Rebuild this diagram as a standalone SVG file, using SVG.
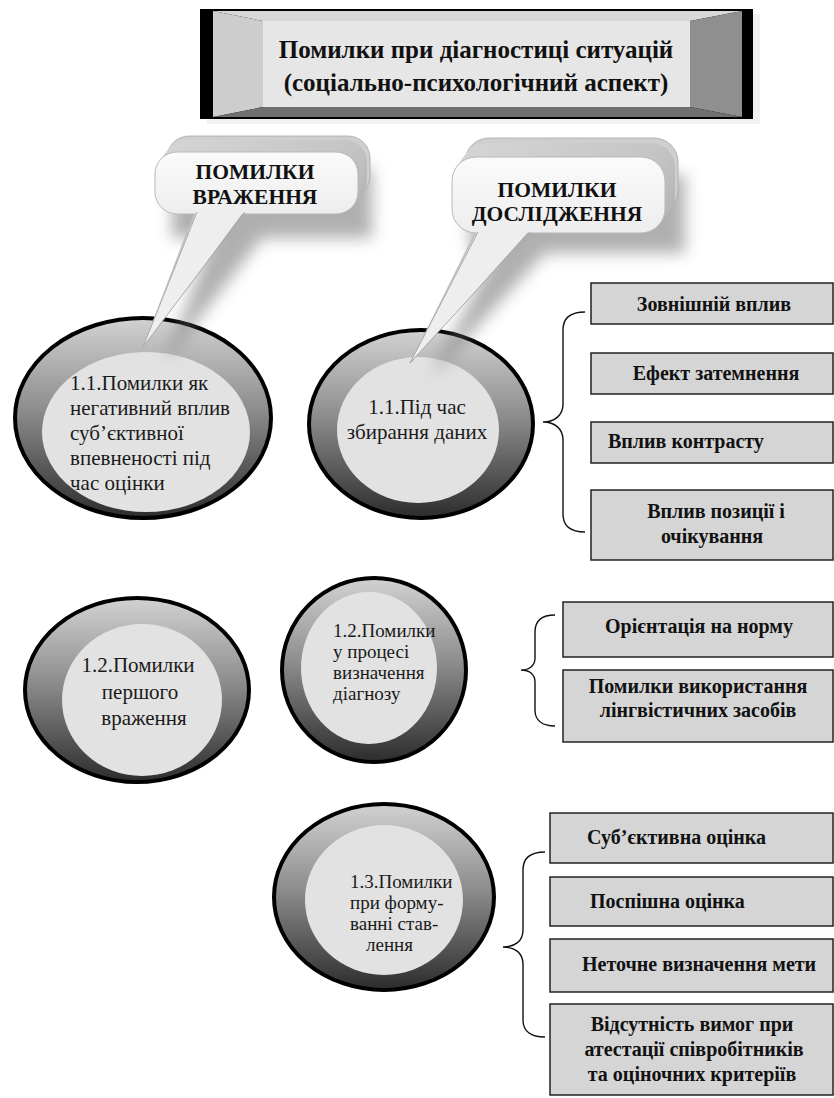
<svg xmlns="http://www.w3.org/2000/svg" width="834" height="1098" viewBox="0 0 834 1098">
<defs>
  <linearGradient id="ringGrad" x1="0" y1="0" x2="0" y2="1">
    <stop offset="0" stop-color="#d2d2d2"/>
    <stop offset="0.45" stop-color="#8e8e8e"/>
    <stop offset="1" stop-color="#2c2c2c"/>
  </linearGradient>
  <linearGradient id="faceGrad" x1="0" y1="0" x2="0" y2="1">
    <stop offset="0" stop-color="#fbfbfb"/>
    <stop offset="1" stop-color="#ededed"/>
  </linearGradient>
  <linearGradient id="extGrad" x1="0" y1="0" x2="1" y2="1">
    <stop offset="0" stop-color="#d6d6d6"/>
    <stop offset="1" stop-color="#b2b2b2"/>
  </linearGradient>
  <filter id="soft" x="-40%" y="-40%" width="180%" height="180%">
    <feGaussianBlur stdDeviation="8"/>
  </filter>
</defs>
<style>
  .ring{fill:url(#ringGrad);stroke:#000;stroke-width:4}
  .inner{fill:#e2e2e2}
  .ct{font-family:"Liberation Serif","Times New Roman",serif;font-size:21px;fill:#1a1a1a}
  .cs{font-size:19px}
  .box{fill:#d5d5d5;stroke:#222;stroke-width:1.5}
  .bt{font-family:"Liberation Serif","Times New Roman",serif;font-weight:bold;font-size:20px;fill:#111}
  .mid{text-anchor:middle}
  .brace{fill:none;stroke:#111;stroke-width:1.4}
  .title{font-family:"Liberation Serif","Times New Roman",serif;font-weight:bold;font-size:25px;fill:#111;text-anchor:middle}
  .cot{font-family:"Liberation Serif","Times New Roman",serif;font-weight:bold;font-size:21.5px;fill:#111;text-anchor:middle}
  .ext{fill:url(#extGrad)}
  .back{fill:#cfcfcf;stroke:#a8a8a8;stroke-width:0.8}
  .front{fill:url(#faceGrad);stroke:#b8b8b8;stroke-width:1}
  .shadow{fill:#6e6e6e;opacity:0.55;filter:url(#soft)}
</style>

<!-- Title -->
<g id="title">
  <rect x="207" y="14" width="553" height="110" fill="#e8e8e8" opacity="0.6"/>
  <rect x="200" y="9" width="553" height="110" fill="#000"/>
  <polygon points="213,11 742,11 690,21 263,21" fill="#d8d8d8"/>
  <polygon points="213,11 263,21 263,107 213,117" fill="#cdcdcd"/>
  <polygon points="742,11 690,21 690,107 742,117" fill="#8f8f8f"/>
  <polygon points="263,107 690,107 742,117 213,117" fill="#707070"/>
  <rect x="263" y="21" width="427" height="86" fill="#e6e6e6"/>
  <text class="title" x="476" y="58">Помилки при діагностиці ситуацій</text>
  <text class="title" x="476" y="91">(соціально-психологічний аспект)</text>
</g>

<!-- Circles -->
<g id="circle-1-1-vrazhennia">
  <ellipse class="ring" cx="143" cy="418" rx="128" ry="100"/>
  <ellipse class="inner" cx="146" cy="432" rx="104" ry="80"/>
  <text class="ct" x="70" y="390">1.1.Помилки як</text>
  <text class="ct" x="70" y="415">негативний вплив</text>
  <text class="ct" x="70" y="440">суб’єктивної</text>
  <text class="ct" x="70" y="465">впевненості під</text>
  <text class="ct" x="70" y="490">час оцінки</text>
</g>

<g id="circle-1-1-doslidzhennia">
  <ellipse class="ring" cx="421" cy="424" rx="112" ry="94"/>
  <ellipse class="inner" cx="418" cy="430" rx="81" ry="73"/>
  <text class="ct mid" x="417" y="414">1.1.Під час</text>
  <text class="ct mid" x="417" y="439">збирання даних</text>
</g>

<g id="circle-1-2-vrazhennia">
  <ellipse class="ring" cx="137" cy="690" rx="112" ry="92"/>
  <ellipse class="inner" cx="142" cy="700" rx="80" ry="76"/>
  <text class="ct mid" x="138" y="672">1.2.Помилки</text>
  <text class="ct mid" x="140" y="699">першого</text>
  <text class="ct mid" x="144" y="725">враження</text>
</g>

<g id="circle-1-2-doslidzhennia">
  <ellipse class="ring" cx="374" cy="670" rx="92" ry="92"/>
  <ellipse class="inner" cx="369" cy="668" rx="68" ry="76"/>
  <text class="ct cs" x="333" y="637">1.2.Помилки</text>
  <text class="ct cs" x="333" y="658">у процесі</text>
  <text class="ct cs" x="333" y="679">визначення</text>
  <text class="ct cs" x="333" y="700">діагнозу</text>
</g>

<g id="circle-1-3">
  <ellipse class="ring" cx="384" cy="897" rx="110" ry="93"/>
  <ellipse class="inner" cx="384" cy="900" rx="79" ry="75"/>
  <text class="ct cs" x="350" y="888">1.3.Помилки</text>
  <text class="ct cs" x="350" y="909">при форму-</text>
  <text class="ct cs" x="350" y="930">ванні став-</text>
  <text class="ct cs" x="366" y="951">лення</text>
</g>

<!-- Callout 1 -->
<g id="callout-vrazhennia">
  <path class="shadow" d="M172,168 h200 v70 h-110 L165,362 L212,238 h-40 z"/>
  <rect class="back" x="167" y="136" width="203" height="62" rx="22"/>
  <rect class="ext" x="164" y="140" width="203" height="62" rx="22"/>
  <rect class="ext" x="161" y="144" width="203" height="62" rx="22"/>
  <rect class="ext" x="158" y="148" width="203" height="62" rx="22"/>
  <polygon points="195,210 201,210 146,345 143,347" fill="#bdbdbd"/>
  <rect class="front" x="155" y="152" width="203" height="62" rx="22"/>
  <polygon points="197,210 245,210 143,347" fill="#eeeeee"/>
  <polyline points="197,212 143,347 245,212" fill="none" stroke="#a8a8a8" stroke-width="1"/>
  <text class="cot" x="255" y="179">ПОМИЛКИ</text>
  <text class="cot" x="255" y="204">ВРАЖЕННЯ</text>
</g>

<!-- Callout 2 -->
<g id="callout-doslidzhennia">
  <path class="shadow" d="M470,175 h215 v78 h-140 L430,378 L495,253 h-25 z"/>
  <rect class="back" x="465" y="138" width="213" height="76" rx="24"/>
  <rect class="ext" x="462" y="143" width="213" height="76" rx="24"/>
  <rect class="ext" x="458" y="148" width="213" height="76" rx="24"/>
  <rect class="ext" x="455" y="153" width="213" height="76" rx="24"/>
  <polygon points="476,230 482,230 413,361 410,363" fill="#bdbdbd"/>
  <rect class="front" x="452" y="157" width="213" height="76" rx="24"/>
  <polygon points="478,230 530,230 410,363" fill="#eeeeee"/>
  <polyline points="478,232 410,363 530,232" fill="none" stroke="#a8a8a8" stroke-width="1"/>
  <text class="cot" x="557" y="197">ПОМИЛКИ</text>
  <text class="cot" x="557" y="221">ДОСЛІДЖЕННЯ</text>
</g>

<!-- Braces -->
<g id="connectors">
  <path class="brace" d="M585,312 C571,312 563,318 563,330 L563,404 C563,415 555,422 543,422 C555,422 563,429 563,440 L563,514 C563,526 571,532 585,532"/>
  <path class="brace" d="M555,615 C542,615 535,621 535,632 L535,658 C535,666 529,670 521,670 C529,670 535,674 535,682 L535,710 C535,720 542,726 555,726"/>
  <path class="brace" d="M545,852 C531,852 523,858 523,870 L523,930 C523,941 515,947 503,947 C515,947 523,953 523,964 L523,1020 C523,1031 531,1037 545,1037"/>
</g>

<!-- Boxes group 1 -->
<g id="box-zovnishnii">
  <rect class="box" x="591" y="283" width="242" height="41"/>
  <text class="bt mid" x="714" y="311">Зовнішній вплив</text>
</g>
<g id="box-efekt">
  <rect class="box" x="591" y="353" width="242" height="41"/>
  <text class="bt mid" x="716" y="380">Ефект затемнення</text>
</g>
<g id="box-kontrast">
  <rect class="box" x="591" y="422" width="242" height="41"/>
  <text class="bt" x="608" y="448">Вплив контрасту</text>
</g>
<g id="box-pozytsii">
  <rect class="box" x="591" y="490" width="242" height="70"/>
  <text class="bt mid" x="716" y="518">Вплив позиції і</text>
  <text class="bt mid" x="712" y="543">очікування</text>
</g>

<!-- Boxes group 2 -->
<g id="box-norma">
  <rect class="box" x="563" y="602" width="270" height="55"/>
  <text class="bt mid" x="699" y="633">Орієнтація на норму</text>
</g>
<g id="box-lingv">
  <rect class="box" x="563" y="670" width="270" height="72"/>
  <text class="bt mid" x="698" y="693">Помилки використання</text>
  <text class="bt mid" x="698" y="717">лінгвістичних засобів</text>
</g>

<!-- Boxes group 3 -->
<g id="box-subiekt">
  <rect class="box" x="550" y="813" width="283" height="50"/>
  <text class="bt" x="587" y="844">Суб’єктивна оцінка</text>
</g>
<g id="box-pospishna">
  <rect class="box" x="550" y="877" width="283" height="49"/>
  <text class="bt" x="590" y="908">Поспішна оцінка</text>
</g>
<g id="box-netochne">
  <rect class="box" x="550" y="939" width="283" height="53"/>
  <text class="bt" x="582" y="971">Неточне визначення мети</text>
</g>
<g id="box-vidsutnist">
  <rect class="box" x="550" y="1004" width="283" height="91"/>
  <text class="bt mid" x="692" y="1031">Відсутність вимог при</text>
  <text class="bt mid" x="694" y="1056">атестації співробітників</text>
  <text class="bt mid" x="692" y="1081">та оціночних критеріїв</text>
</g>
</svg>
